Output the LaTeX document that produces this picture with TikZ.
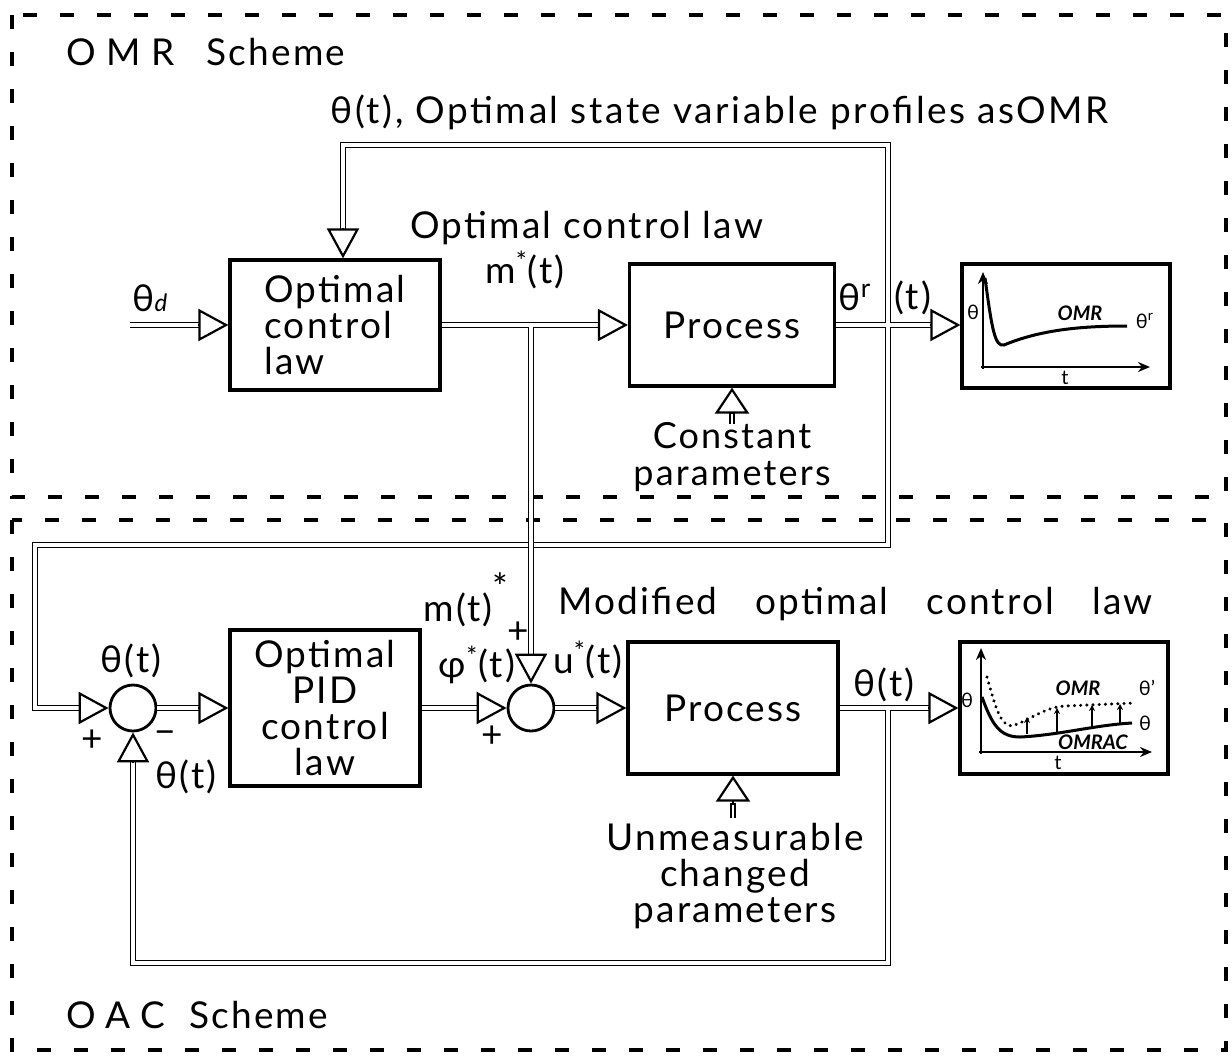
\documentclass[tikz,border=0pt]{standalone}
\usepackage{fontspec}
\setmainfont{Lato}
\usetikzlibrary{arrows.meta,calc}
\newcommand\mainfs{\fontsize{18.5}{18}\selectfont\addfontfeature{LetterSpace=6}\lineskiplimit=-30pt}
\newcommand\plotfs{\fontsize{10}{11}\selectfont}
\newcommand\harr[3][]{\draw[tipst,#1] ($(#2)+(#3)$) -- (#2);}
\begin{document}
\begin{tikzpicture}[x=0.5pt,y=-0.5pt,
  blk/.style={draw, line width=1.6pt, rectangle, inner sep=0pt, font=\mainfs, align=center},
  dbl/.style={double, line width=0.9pt, double distance=1.6pt},
  tipst/.style={line width=1.1pt, -{Triangle[open, length=15pt, width=16pt]}},
  smalltip/.style={-{Triangle[open, length=13pt, width=17pt]}},
  sumst/.style={circle, draw, line width=1.4pt, minimum size=23pt, inner sep=0pt},
  lab/.style={font=\mainfs, inner sep=0pt, align=center},
  plab/.style={font=\plotfs, inner sep=0pt},
  frame/.style={line width=2pt, dash pattern=on 7pt off 11.5pt},
  axis/.style={line width=1.3pt, -{Stealth[length=6pt,width=5pt]}},
  curve/.style={line width=1.5pt}]
\useasboundingbox (0,0) rectangle (1232,1062);

% frames
\draw[frame] (12,15) rectangle (1226,497);
\draw[frame] (12,520) rectangle (1226,1050);

% blocks
\node[blk, minimum width=105pt, minimum height=65pt, align=left] (box1) at (335,325) {Optimal\\control\\law};
\node[blk, minimum width=102.5pt, minimum height=61pt] (proc1) at (732,325) {Process};
\node[blk, minimum width=104pt, minimum height=62pt] (plot1) at (1066,326) {};
\node[blk, minimum width=95pt, minimum height=78pt] (pid) at (325,708) {Optimal\\PID\\control\\law};
\node[blk, minimum width=105pt, minimum height=66pt] (proc2) at (733,708) {Process};
\node[blk, minimum width=104pt, minimum height=66pt] (plot2) at (1064,708) {};
\node[sumst] (sum1) at (133,708) {};
\node[sumst] (sum2) at (531,708) {};

% coordinates
\coordinate (in1) at (130,325);
\coordinate (fbA) at (343,145);
\coordinate (fbB) at (888,145);
\coordinate (fbC) at (888,545);
\coordinate (fbD) at (35,545);
\coordinate (fbE) at (35,708);
\coordinate (b1top) at (fbA |- box1.north);
\coordinate (mbr) at (531,325);
\coordinate (obr) at (888,708);
\coordinate (fbF) at (888,963);
\coordinate (fbG) at (133,963);
\coordinate (p1in) at (plot1.west |- proc1.east);

% double shafts
\draw[dbl] (in1) -- ($(box1.west)+(-14pt,0)$);
\draw[dbl] ($(b1top)+(0,14pt)$) -- (fbA) -- (fbB) -- (fbC) -- (fbD) -- (fbE) -- ($(sum1.west)+(-14pt,0)$)
           (proc1.east) -- ($(p1in)+(-14pt,0)$);
\draw[dbl] (box1.east) -- ($(proc1.west)+(-14pt,0)$)
           (mbr) -- ($(sum2.north)+(0,14pt)$);
\draw[dbl] (sum1.east) -- ($(pid.west)+(-14pt,0)$);
\draw[dbl] (pid.east) -- ($(sum2.west)+(-14pt,0)$);
\draw[dbl] (sum2.east) -- ($(proc2.west)+(-14pt,0)$);
\draw[dbl] (proc2.east) -- ($(plot2.west)+(-14pt,0)$)
           (obr) -- (fbF) -- (fbG) -- ($(sum1.south)+(0,-14pt)$);
\draw[dbl, line width=0.8pt, double distance=1.4pt] ($(proc1.south)+(0,-18pt)$) -- ($(proc1.south)+(0,-12pt)$);
\draw[dbl, line width=0.8pt, double distance=1.4pt] ($(proc2.south)+(0,-21pt)$) -- ($(proc2.south)+(0,-13.5pt)$);

% arrow tips
\harr{box1.west}{-15pt,0}
\harr{b1top}{0,15pt}
\harr{proc1.west}{-15pt,0}
\harr{p1in}{-15pt,0}
\harr{sum1.west}{-15pt,0}
\harr{pid.west}{-15pt,0}
\harr{sum2.west}{-15pt,0}
\harr{sum2.north}{0,15pt}
\harr{proc2.west}{-15pt,0}
\harr{plot2.west}{-15pt,0}
\harr{sum1.south}{0,-15pt}
\harr[smalltip]{proc1.south}{0,-13pt}
\harr[smalltip]{proc2.south}{0,-14.5pt}

% labels top
\node[lab, anchor=west] (omr) at (66,52) {{\addfontfeature{LetterSpace=28}OMR}\hspace{16pt}Scheme};
\node[lab, anchor=west] (fbl) at (330,112) {\addfontfeature{LetterSpace=7}θ(t), Optimal state variable profiles asOMR};
\node[lab, anchor=west] (ocl) at (410,228) {Optimal control law};
\node[lab] (mst) at (525,270) {m\textsuperscript{*}(t)};
\node[lab] (thd) at (150,298) {θ{\fontsize{12}{12}\selectfont\itshape d}};
\node[lab] (thr) at (855,297) {θ\textsuperscript{r}};
\node[lab] (tt) at (913,298) {(t)};
\node[lab, font=\mainfs\fontsize{18}{18.5}\selectfont] (cst) at (732,457) {Constant\\parameters};

% labels bottom
\node[lab] (mt) at (466,600) {m(t)\raisebox{1.1ex}{*}};
\node[lab] (pl1) at (518,633) {+};
\node[lab, anchor=west] (mocl) at (558,604) {\spaceskip=19pt plus 2pt Modified optimal control law};
\node[lab] (th1) at (131,661) {θ(t)};
\node[lab] (pl2) at (92,741) {+};
\node[lab] (mi1) at (165,738) {−};
\node[lab] (th2) at (186,777) {θ(t)};
\node[lab] (phi) at (477,665) {φ\textsuperscript{*}(t)};
\node[lab] (pl3) at (492,737) {+};
\node[lab] (ust) at (588,660) {u\textsuperscript{*}(t)};
\node[lab] (th3) at (884,685) {θ(t)};
\node[lab] (unm) at (735,876) {Unmeasurable\\changed\\parameters};
\node[lab, anchor=west] (oac) at (66,1015) {{\addfontfeature{LetterSpace=28}OAC}\hspace{12pt}Scheme};

% plot 1
\draw[axis] (983,369) -- (983,272);
\draw[axis] (981,367) -- (1150,367);
\draw[curve] (985,278) .. controls (992,330) and (995,347) .. (1004,345) .. controls (1040,330) and (1080,326) .. (1127,326);
\node[plab] at (973,312) {θ};
\node[plab, font=\plotfs\bfseries\itshape] at (1080,313) {OMR};
\node[plab] at (1145,321) {θ\textsuperscript{r}};
\node[plab] at (1065,378) {t};

% plot 2
\draw[axis] (981,754) -- (981,648);
\draw[axis] (979,752) -- (1152,752);
\draw[line width=1.6pt, line cap=round, dash pattern=on 0.1pt off 3pt] (987,677) .. controls (995,705) and (1000,726) .. (1012,726) .. controls (1030,720) and (1045,707) .. (1065,706) -- (1135,703);
\draw[curve] (982,697) .. controls (992,725) and (1000,737) .. (1020,737) .. controls (1060,735) and (1095,725) .. (1132,723);
\foreach \xx/\ya/\yb in {1027/734/717, 1057/733/708, 1092/728/705, 1120/724/704}
  \draw[line width=0.9pt, -{Stealth[length=3pt,width=3pt]}] (\xx,\ya) -- (\xx,\yb);
\node[plab] at (967,700) {θ};
\node[plab, font=\plotfs\bfseries\itshape] at (1078,688) {OMR};
\node[plab] at (1147,688) {θ'};
\node[plab] at (1145,723) {θ};
\node[plab, font=\plotfs\bfseries\itshape] at (1093,742) {OMRAC};
\node[plab] at (1058,763) {t};
\end{tikzpicture}
\end{document}
